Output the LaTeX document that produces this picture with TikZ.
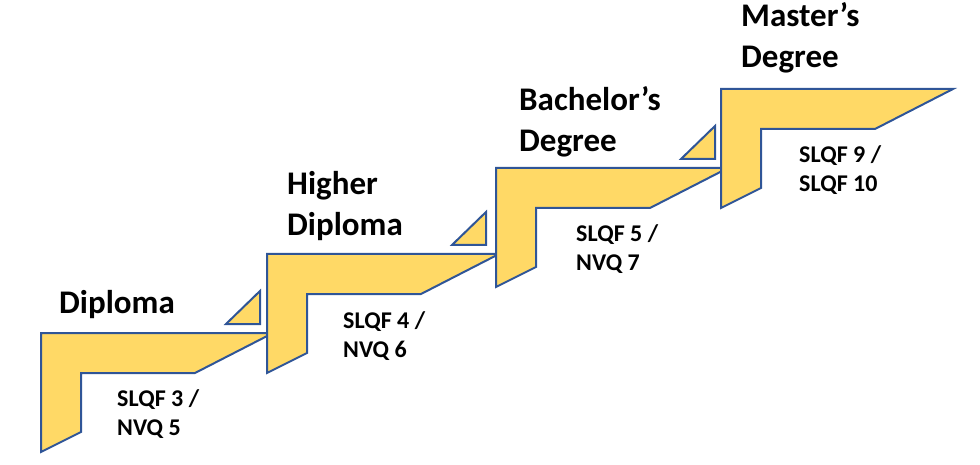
\documentclass[tikz,border=0pt]{standalone}
\usepackage{fontspec}
\setmainfont{Carlito}
\definecolor{stepfill}{HTML}{FFD966}
\definecolor{stepline}{HTML}{2F5597}
\tikzset{
	stair/.style={fill=stepfill, draw=stepline, line width=2pt, line join=miter},
	steptitle/.style={font=\fontsize{33}{41}\selectfont\bfseries, align=left, anchor=base west, inner sep=0pt},
	steplabel/.style={font=\fontsize{24}{29}\selectfont\bfseries, align=left, anchor=base west, inner sep=0pt}
}
\newcommand{\stairpath}{(0,0) -- (232,0) -- (154,40) -- (40,40) -- (40,99) -- (0,119) -- cycle}
\newcommand{\wedgepath}{(185,-9) -- (219,-42) -- (219,-9) -- cycle}
\begin{document}
\begin{tikzpicture}[x=1pt, y=-1pt]
	\useasboundingbox (0,0) rectangle (980,465);
	% Diploma
	\begin{scope}[shift={(41,333)}]
		\filldraw[stair] \stairpath;
		\filldraw[stair] \wedgepath;
		\node[steptitle] (title-1) at (18,-20) {Diploma};
		\node[steplabel] (qual-1) at (76,102) {SLQF 3 /\\NVQ 5};
	\end{scope}
	% Higher Diploma
	\begin{scope}[shift={(267,254)}]
		\filldraw[stair] \stairpath;
		\filldraw[stair] \wedgepath;
		\node[steptitle] (title-2) at (20,-18) {Higher\\Diploma};
		\node[steplabel] (qual-2) at (76,103) {SLQF 4 /\\NVQ 6};
	\end{scope}
	% Bachelor's Degree
	\begin{scope}[shift={(496,168)}]
		\filldraw[stair] \stairpath;
		\filldraw[stair] \wedgepath;
		\node[steptitle] (title-3) at (23,-16) {Bachelor’s\\Degree};
		\node[steplabel] (qual-3) at (80,102) {SLQF 5 /\\NVQ 7};
	\end{scope}
	% Master's Degree
	\begin{scope}[shift={(721,89)}]
		\filldraw[stair] \stairpath;
		\node[steptitle] (title-4) at (20,-21) {Master’s\\Degree};
		\node[steplabel] (qual-4) at (78,103) {SLQF 9 /\\SLQF 10};
	\end{scope}
\end{tikzpicture}
\end{document}
